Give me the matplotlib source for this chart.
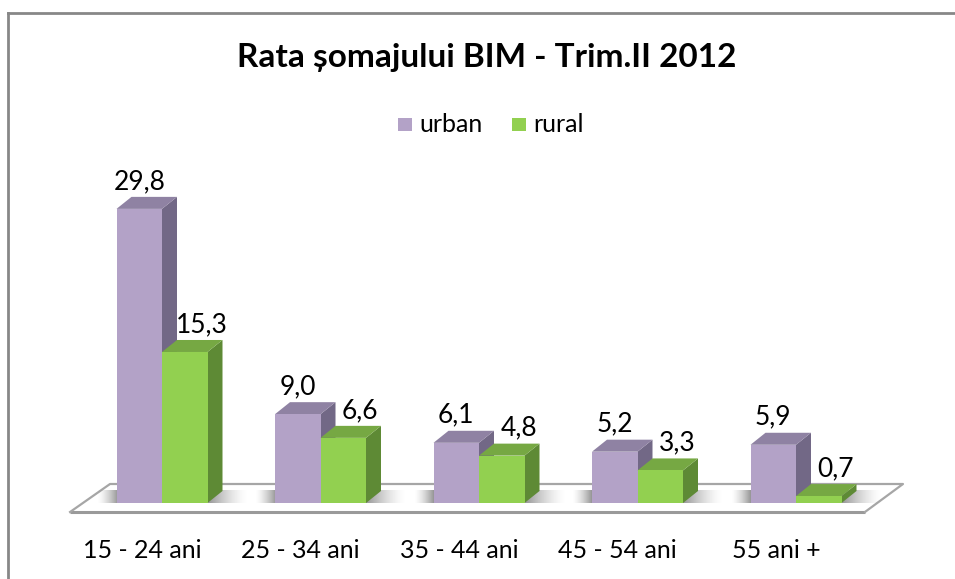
import matplotlib
matplotlib.use("Agg")
import matplotlib.pyplot as plt
from matplotlib.patches import Polygon, Rectangle
from matplotlib.lines import Line2D
import numpy as np

# ---- data ----
categories = ["15 - 24 ani", "25 - 34 ani", "35 - 44 ani", "45 - 54 ani", "55 ani +"]
urban = [29.8, 9.0, 6.1, 5.2, 5.9]
rural = [15.3, 6.6, 4.8, 3.3, 0.7]
series_names = ["urban", "rural"]
title = "Rata șomajului BIM - Trim.II 2012"

FONT = ["Lato", "DejaVu Sans"]
plt.rcParams["font.family"] = FONT

W, H = 955, 579
fig = plt.figure(figsize=(W / 100, H / 100), dpi=100)
ax = fig.add_axes([0, 0, 1, 1])
ax.set_axis_off()

# pixel mapping: x_px = 162 + 158.5*i ; y_px(from top) = 503 - 9.87*v
sx, ox = 158.5, 162.0
sy, oy = 9.87, 503.0
ax.set_xlim(-ox / sx, (W - ox) / sx)
ax.set_ylim(-(H - oy) / sy, oy / sy)

bw = 45.5 / sx          # bar width
dx = 15 / sx            # depth offset x
dy = 12 / sy            # depth offset y

cols = {
    "urban": ("#B3A2C7", "#8F82A3", "#726886"),
    "rural": ("#92D050", "#76A843", "#5E8A35"),
}

# ---- floor ----
fy0 = (oy - 512) / sy
fy1 = (oy - 484) / sy
fl = [(-0.58, fy0), (4.435, fy0), (4.675, fy1), (-0.328, fy1)]
ax.add_patch(Polygon(fl, closed=True, facecolor="white", edgecolor="none", zorder=1))
ax.plot([fl[0][0], fl[1][0]], [fy0, fy0], color="#9A9A9A", lw=2.2, zorder=2, solid_capstyle="butt")
ax.plot([fl[0][0], fl[3][0], fl[2][0], fl[1][0]], [fy0, fy1, fy1, fy0],
        color="#A6A6A6", lw=1.6, zorder=2)

# shadows
grad = np.linspace(0, 1, 64)[None, :]
def shadow(x0, x1, reverse=False):
    g = grad[:, ::-1] if reverse else grad
    rgba = np.zeros((1, 64, 4))
    rgba[..., :3] = 0.45
    rgba[..., 3] = 0.75 * (1 - g) ** 1.5
    ax.imshow(rgba, extent=(x0, x1, 0.05, dy * 1.05), aspect="auto",
              interpolation="bilinear", zorder=3)

def bar3d(x0, v, c):
    front, top, side = c
    ax.add_patch(Polygon([(x0 + bw, 0), (x0 + bw + dx, dy), (x0 + bw + dx, v + dy), (x0 + bw, v)],
                         closed=True, facecolor=side, edgecolor="none", zorder=5))
    ax.add_patch(Polygon([(x0, v), (x0 + bw, v), (x0 + bw + dx, v + dy), (x0 + dx, v + dy)],
                         closed=True, facecolor=top, edgecolor="none", zorder=5))
    ax.add_patch(Polygon([(x0, 0), (x0 + bw, 0), (x0 + bw, v), (x0, v)],
                         closed=True, facecolor=front, edgecolor="none", zorder=5))

fmt = lambda v: f"{v:.1f}".replace(".", ",")
LBL = 19

for i, (u, r) in enumerate(zip(urban, rural)):
    xu = i - bw
    xr = i
    shadow(xr + bw, xr + bw + 40 / sx)
    shadow(xu - 20 / sx, xu, reverse=True)
    bar3d(xu, u, cols["urban"])
    bar3d(xr, r, cols["rural"])
    ax.text(xu + bw / 2, u + dy + 8 / sy, fmt(u), ha="center", va="baseline",
            fontsize=LBL, color="black", zorder=6)
    ax.text(xr + bw / 2 + 17 / sx, r + dy + 8 / sy, fmt(r), ha="center", va="baseline",
            fontsize=LBL, color="black", zorder=6)
    ax.text(i - 20 / sx, (oy - 550) / sy, categories[i], ha="center", va="center",
            fontsize=18, color="black", zorder=6)

# ---- title ----
fig.text(487 / W, 1 - 58 / H, title, ha="center", va="center",
         fontsize=24, fontweight="bold", color="black")

# ---- legend ----
def leg(xpx, name, color):
    fig.patches.append(Rectangle(
        (xpx / W, 1 - 131 / H), 14 / W, 13 / H, transform=fig.transFigure,
        facecolor=color, edgecolor="none"))
    fig.text((xpx + 21) / W, 1 - 125 / H, name, ha="left", va="center",
             fontsize=18, color="black")
leg(398, series_names[0], cols["urban"][0])
leg(512, series_names[1], cols["rural"][0])

# ---- outer border (top & left visible) ----
fig.add_artist(Line2D([7.5 / W, 1], [1 - 12.5 / H, 1 - 12.5 / H], transform=fig.transFigure,
                      color="#878787", lw=2))
fig.add_artist(Line2D([7.5 / W, 7.5 / W], [0, 1 - 12.5 / H], transform=fig.transFigure,
                      color="#878787", lw=2))

fig.savefig("out.png", dpi=100)
